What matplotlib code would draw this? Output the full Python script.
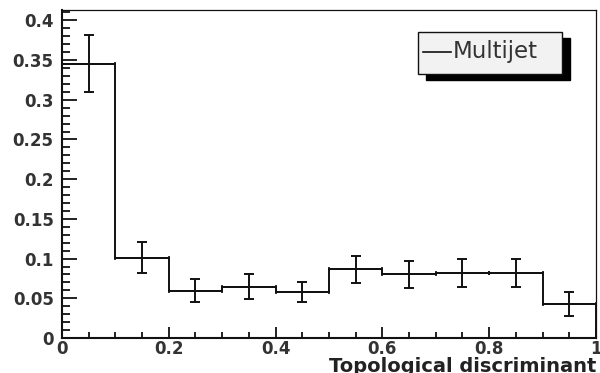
import numpy as np
import matplotlib
matplotlib.use("Agg")
import matplotlib.pyplot as plt
from matplotlib.patches import Rectangle
from matplotlib.lines import Line2D
from matplotlib.ticker import MultipleLocator, FuncFormatter

# ── data ──────────────────────────────────────────────────────
bin_edges = [0.0, 0.1, 0.2, 0.3, 0.4, 0.5, 0.6, 0.7, 0.8, 0.9, 1.0]
multijet = [0.3455, 0.101, 0.0595, 0.0645, 0.0582, 0.0864, 0.080, 0.082, 0.082, 0.0428]
multijet_err = [0.036, 0.0195, 0.0145, 0.0157, 0.0128, 0.017, 0.0166, 0.0176, 0.0172, 0.0146]
series_label = "Multijet"
x_title = "Topological discriminant"

edges = np.array(bin_edges)
centers = 0.5 * (edges[:-1] + edges[1:])
half_w = 0.5 * np.diff(edges)

fig = plt.figure(figsize=(6, 3.73), dpi=100)
ax = fig.add_axes([0.1033, 0.0938, 0.89, 0.8794])

# histogram outline + ROOT-style error bars
ax.stairs(multijet, edges, color="#111111", lw=1.4)
ax.errorbar(centers, multijet, yerr=multijet_err, fmt="none", ecolor="#111111",
            elinewidth=1.4, capsize=3.5, capthick=1.4)
ax.errorbar(centers, multijet, xerr=half_w, fmt="none", ecolor="#111111",
            elinewidth=1.2, capsize=1.6, capthick=1.2)

ax.set_xlim(0, 1)
ax.set_ylim(0, 0.413)

# ticks
ax.xaxis.set_major_locator(MultipleLocator(0.2))
ax.xaxis.set_minor_locator(MultipleLocator(0.05))
ax.yaxis.set_major_locator(MultipleLocator(0.05))
ax.yaxis.set_minor_locator(MultipleLocator(0.01))
fmt = FuncFormatter(lambda v, p: f"{v:g}")
ax.xaxis.set_major_formatter(fmt)
ax.yaxis.set_major_formatter(fmt)

ax.tick_params(axis="both", which="both", direction="in", top=False, right=False,
               colors="#111111", labelcolor="#333333", labelsize=12)
ax.tick_params(axis="y", which="major", length=11, width=1.3, pad=6)
ax.tick_params(axis="y", which="minor", length=6, width=1.3)
ax.tick_params(axis="x", which="major", length=8, width=1.3, pad=1.5)
ax.tick_params(axis="x", which="minor", length=4.5, width=1.3)
for lbl in ax.get_xticklabels() + ax.get_yticklabels():
    lbl.set_fontweight("bold")
    lbl.set_family("DejaVu Sans")

for side in ["left", "bottom"]:
    ax.spines[side].set_linewidth(1.5)
    ax.spines[side].set_color("#111111")
for side in ["top", "right"]:
    ax.spines[side].set_linewidth(0.9)
    ax.spines[side].set_color("#111111")

ax.set_xlabel(x_title, loc="right", fontsize=14, fontweight="bold",
              color="#222222", labelpad=-1)

# legend box with ROOT-style drop shadow
x0, x1, y0, y1 = 0.667, 0.936, 0.805, 0.933
ax.add_patch(Rectangle((x0 + 0.015, y0 - 0.018), x1 - x0, y1 - y0,
                       transform=ax.transAxes, facecolor="black",
                       edgecolor="black", zorder=5))
ax.add_patch(Rectangle((x0, y0), x1 - x0, y1 - y0, transform=ax.transAxes,
                       facecolor="#f2f2f2", edgecolor="#111111", lw=1.0, zorder=6))
ax.add_line(Line2D([0.676, 0.7285], [0.872, 0.872], transform=ax.transAxes,
                   color="#111111", lw=1.2, zorder=7))
ax.text(0.732, 0.872, series_label, transform=ax.transAxes, fontsize=16.5,
        color="#333333", va="center", ha="left", zorder=7)

fig.savefig("out.png", dpi=100)
